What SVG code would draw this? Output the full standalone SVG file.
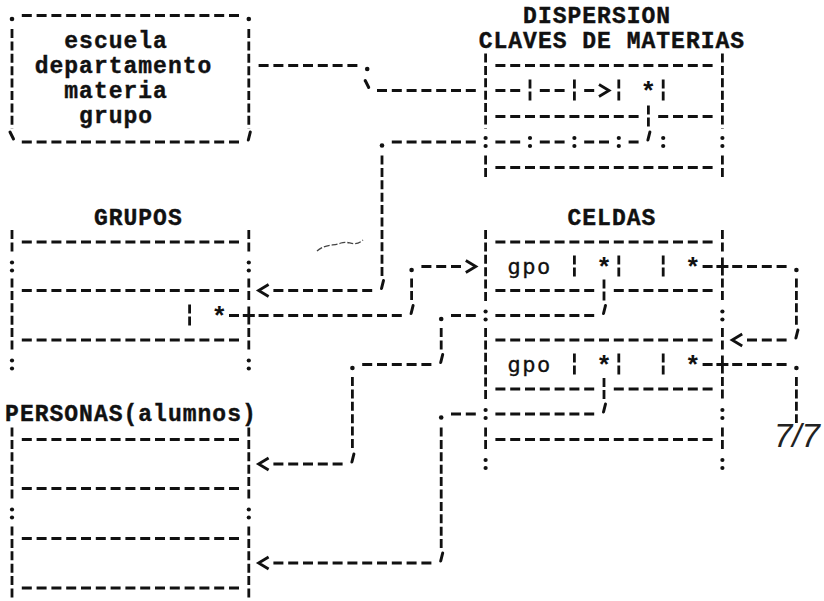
<svg xmlns="http://www.w3.org/2000/svg" xmlns:xlink="http://www.w3.org/1999/xlink" width="824" height="601" viewBox="0 0 824 601">
<style>
.h{stroke:#111;stroke-width:3;stroke-dasharray:10 4.8;fill:none}
.v{stroke:#111;stroke-width:2.8;stroke-dasharray:9 3.4;fill:none}
.t{font-family:"Liberation Mono","DejaVu Sans Mono",monospace;font-size:23px;font-weight:bold;letter-spacing:1px;fill:#111;stroke:#111;stroke-width:0.4}
.s{font-family:"Liberation Mono","DejaVu Sans Mono",monospace;font-size:26px;font-weight:bold;fill:#111;text-anchor:middle}
.p{font-family:"DejaVu Sans Mono","Liberation Mono",monospace;font-size:22px;letter-spacing:1.5px;fill:#111;stroke:#111;stroke-width:0.3}
.n{font-family:"Liberation Sans",Arial,sans-serif;font-size:33px;font-style:italic;fill:#222}
</style>
<defs>
<g id="colon" fill="#111"><circle cx="0" cy="-4" r="2.1"/><circle cx="0" cy="4" r="2.1"/></g>
<circle id="dot" cx="0" cy="3.5" r="2.3" fill="#111"/>
<line id="tick" x1="1.5" y1="-10" x2="-0.5" y2="-2" stroke="#111" stroke-width="3" stroke-linecap="round"/>
<line id="btick" x1="-2" y1="-10" x2="1.5" y2="-3" stroke="#111" stroke-width="3" stroke-linecap="round"/>
<line id="bar" x1="0" y1="-11" x2="0" y2="10" stroke="#111" stroke-width="2.8" stroke-dasharray="9 3"/>
<polyline id="lt" points="5,-6 -5,0 5,6" fill="none" stroke="#111" stroke-width="2.8"/>
<polyline id="gt" points="-5,-6 5,0 -5,6" fill="none" stroke="#111" stroke-width="2.8"/>
<path id="plus" d="M-6,0H6M0,-9V9" fill="none" stroke="#111" stroke-width="2.8"/>
</defs>
<rect width="824" height="601" fill="#fff"/>

<g id="entrada">
<line class="h" x1="21.8" y1="15.5" x2="239" y2="15.5"/>
<use href="#dot" x="12" y="15.5"/><use href="#dot" x="248.8" y="15.5"/>
<line class="v" x1="12" y1="29" x2="12" y2="128.5"/>
<line class="v" x1="248.8" y1="29" x2="248.8" y2="128.5"/>
<line class="h" x1="21.8" y1="142" x2="239" y2="142"/>
<use href="#btick" x="12" y="142"/><use href="#tick" x="248.8" y="142"/>
<text class="t" x="64.3" y="48">escuela</text>
<text class="t" x="34.7" y="72.5">departamento</text>
<text class="t" x="64.3" y="97.5">materia</text>
<text class="t" x="79.1" y="123">grupo</text>
</g>

<g id="dispersion">
<text class="t" x="523.1" y="23">DISPERSION</text>
<text class="t" x="478.7" y="48">CLAVES DE MATERIAS</text>
<line class="v" x1="485.6" y1="53.5" x2="485.6" y2="128.5"/>
<use href="#colon" x="485.6" y="142"/>
<line class="v" x1="485.6" y1="155.5" x2="485.6" y2="179.5"/>
<line class="v" x1="722.4" y1="53.5" x2="722.4" y2="128.5"/>
<use href="#colon" x="722.4" y="142"/>
<line class="v" x1="722.4" y1="155.5" x2="722.4" y2="179.5"/>
<line class="h" x1="495.4" y1="65.5" x2="712.6" y2="65.5"/>
<line class="h" x1="495.4" y1="90.5" x2="520.2" y2="90.5"/>
<use href="#bar" x="530" y="90.5"/>
<line class="h" x1="539.8" y1="90.5" x2="564.6" y2="90.5"/>
<use href="#bar" x="574.4" y="90.5"/>
<line class="h" x1="584.2" y1="90.5" x2="594.2" y2="90.5"/>
<use href="#gt" x="604" y="90.5"/>
<use href="#bar" x="618.8" y="90.5"/>
<text class="s" x="648.4" y="100">*</text>
<use href="#bar" x="663.2" y="90.5"/>
<line class="h" x1="495.4" y1="116.5" x2="638.6" y2="116.5"/>
<use href="#bar" x="648.4" y="116.5"/>
<line class="h" x1="658.2" y1="116.5" x2="712.6" y2="116.5"/>
<line class="h" x1="495.4" y1="142" x2="520.2" y2="142"/>
<use href="#colon" x="530" y="142"/>
<line class="h" x1="539.8" y1="142" x2="564.6" y2="142"/>
<use href="#colon" x="574.4" y="142"/>
<line class="h" x1="584.2" y1="142" x2="609" y2="142"/>
<use href="#colon" x="618.8" y="142"/>
<line class="h" x1="628.6" y1="142" x2="638.6" y2="142"/>
<use href="#tick" x="648.4" y="142"/>
<use href="#colon" x="663.2" y="142"/>
<line class="h" x1="495.4" y1="167.5" x2="712.6" y2="167.5"/>
</g>

<g id="grupos">
<text class="t" x="93.9" y="224.5">GRUPOS</text>
<line class="v" x1="12" y1="230" x2="12" y2="254"/>
<use href="#colon" x="12" y="266.5"/>
<line class="v" x1="12" y1="278.5" x2="12" y2="352"/>
<use href="#colon" x="12" y="364.5"/>
<line class="v" x1="248.8" y1="230" x2="248.8" y2="254"/>
<use href="#colon" x="248.8" y="266.5"/>
<line class="v" x1="248.8" y1="278.5" x2="248.8" y2="302.5"/>
<use href="#plus" x="248.8" y="315.5"/>
<line class="v" x1="248.8" y1="328" x2="248.8" y2="352"/>
<use href="#colon" x="248.8" y="364.5"/>
<line class="h" x1="21.8" y1="242" x2="239" y2="242"/>
<line class="h" x1="21.8" y1="290.5" x2="239" y2="290.5"/>
<use href="#bar" x="189.6" y="315.5"/>
<text class="s" x="219.2" y="325">*</text>
<line class="h" x1="229" y1="315.5" x2="239" y2="315.5"/>
<line class="h" x1="21.8" y1="340" x2="239" y2="340"/>
</g>

<g id="celdas">
<text class="t" x="567.5" y="224.5">CELDAS</text>
<line class="v" x1="485.6" y1="230" x2="485.6" y2="302.5"/>
<use href="#colon" x="485.6" y="315.5"/>
<line class="v" x1="485.6" y1="328" x2="485.6" y2="401"/>
<use href="#colon" x="485.6" y="414"/>
<line class="v" x1="485.6" y1="427.5" x2="485.6" y2="451.5"/>
<use href="#colon" x="485.6" y="464"/>
<line class="v" x1="722.4" y1="230" x2="722.4" y2="254"/>
<use href="#plus" x="722.4" y="266.5"/>
<line class="v" x1="722.4" y1="278.5" x2="722.4" y2="302.5"/>
<use href="#colon" x="722.4" y="315.5"/>
<line class="v" x1="722.4" y1="328" x2="722.4" y2="352"/>
<use href="#plus" x="722.4" y="364.5"/>
<line class="v" x1="722.4" y1="377" x2="722.4" y2="401"/>
<use href="#colon" x="722.4" y="414"/>
<line class="v" x1="722.4" y1="427.5" x2="722.4" y2="451.5"/>
<use href="#colon" x="722.4" y="464"/>
<line class="h" x1="495.4" y1="242" x2="712.6" y2="242"/>
<text class="p" x="507.5" y="273.5">gpo</text>
<use href="#bar" x="574.4" y="266.5"/>
<text class="s" x="604" y="276">*</text>
<use href="#bar" x="618.8" y="266.5"/>
<use href="#bar" x="663.2" y="266.5"/>
<text class="s" x="692.8" y="276">*</text>
<line class="h" x1="702.6" y1="266.5" x2="712.6" y2="266.5"/>
<line class="h" x1="495.4" y1="290.5" x2="594.2" y2="290.5"/>
<use href="#bar" x="604" y="290.5"/>
<line class="h" x1="613.8" y1="290.5" x2="712.6" y2="290.5"/>
<line class="h" x1="495.4" y1="315.5" x2="594.2" y2="315.5"/>
<use href="#tick" x="604" y="315.5"/>
<line class="h" x1="495.4" y1="340" x2="712.6" y2="340"/>
<text class="p" x="507.5" y="371.5">gpo</text>
<use href="#bar" x="574.4" y="364.5"/>
<text class="s" x="604" y="374">*</text>
<use href="#bar" x="618.8" y="364.5"/>
<use href="#bar" x="663.2" y="364.5"/>
<text class="s" x="692.8" y="374">*</text>
<line class="h" x1="702.6" y1="364.5" x2="712.6" y2="364.5"/>
<line class="h" x1="495.4" y1="389" x2="594.2" y2="389"/>
<use href="#bar" x="604" y="389"/>
<line class="h" x1="613.8" y1="389" x2="712.6" y2="389"/>
<line class="h" x1="495.4" y1="414" x2="594.2" y2="414"/>
<use href="#tick" x="604" y="414"/>
<line class="h" x1="495.4" y1="439.5" x2="712.6" y2="439.5"/>
</g>

<g id="personas">
<text class="t" x="5.1" y="421">PERSONAS(alumnos)</text>
<line class="v" x1="12" y1="427.5" x2="12" y2="500.5"/>
<use href="#colon" x="12" y="513.5"/>
<line class="v" x1="12" y1="526.5" x2="12" y2="601"/>
<line class="v" x1="248.8" y1="427.5" x2="248.8" y2="500.5"/>
<use href="#colon" x="248.8" y="513.5"/>
<line class="v" x1="248.8" y1="526.5" x2="248.8" y2="601"/>
<line class="h" x1="21.8" y1="439.5" x2="239" y2="439.5"/>
<line class="h" x1="21.8" y1="488.5" x2="239" y2="488.5"/>
<line class="h" x1="21.8" y1="538.5" x2="239" y2="538.5"/>
<line class="h" x1="21.8" y1="588" x2="239" y2="588"/>
</g>

<g id="connectors">
<line class="h" x1="258.6" y1="65.5" x2="357.4" y2="65.5"/>
<use href="#dot" x="367.2" y="65.5"/>
<use href="#btick" x="367.2" y="90.5"/>
<line class="h" x1="377" y1="90.5" x2="475.8" y2="90.5"/>

<use href="#dot" x="382" y="142"/>
<line class="h" x1="391.8" y1="142" x2="475.8" y2="142"/>
<line class="v" x1="382" y1="155.5" x2="382" y2="278.5"/>
<use href="#tick" x="382" y="290.5"/>
<line class="h" x1="273.4" y1="290.5" x2="372.2" y2="290.5"/>
<use href="#lt" x="263.6" y="290.5"/>

<line class="h" x1="258.6" y1="315.5" x2="401.8" y2="315.5"/>
<use href="#tick" x="411.6" y="315.5"/>
<line class="v" x1="411.6" y1="278.5" x2="411.6" y2="302.5"/>
<use href="#dot" x="411.6" y="266.5"/>
<line class="h" x1="421.4" y1="266.5" x2="461" y2="266.5"/>
<use href="#gt" x="470.8" y="266.5"/>

<use href="#dot" x="441.2" y="315.5"/>
<line class="h" x1="451" y1="315.5" x2="475.8" y2="315.5"/>
<line class="v" x1="441.2" y1="328" x2="441.2" y2="352"/>
<use href="#tick" x="441.2" y="364.5"/>
<line class="h" x1="362.2" y1="364.5" x2="431.4" y2="364.5"/>
<use href="#dot" x="352.4" y="364.5"/>
<line class="v" x1="352.4" y1="377" x2="352.4" y2="451.5"/>
<use href="#tick" x="352.4" y="464"/>
<line class="h" x1="273.4" y1="464" x2="342.6" y2="464"/>
<use href="#lt" x="263.6" y="464"/>

<use href="#dot" x="441.2" y="414"/>
<line class="h" x1="451" y1="414" x2="475.8" y2="414"/>
<line class="v" x1="441.2" y1="427.5" x2="441.2" y2="550.5"/>
<use href="#tick" x="441.2" y="563"/>
<line class="h" x1="273.4" y1="563" x2="431.4" y2="563"/>
<use href="#lt" x="263.6" y="563"/>

<line class="h" x1="732.2" y1="266.5" x2="786.6" y2="266.5"/>
<use href="#dot" x="796.4" y="266.5"/>
<line class="v" x1="796.4" y1="278.5" x2="796.4" y2="327.5"/>
<use href="#tick" x="796.4" y="340"/>
<line class="h" x1="747" y1="340" x2="786.6" y2="340"/>
<use href="#lt" x="737.2" y="340"/>

<line class="h" x1="732.2" y1="364.5" x2="786.6" y2="364.5"/>
<use href="#dot" x="796.4" y="364.5"/>
<line class="v" x1="796.4" y1="377" x2="796.4" y2="423"/>
</g>

<g id="marks">
<path d="M317,251 C325,244 333,246 341,243 C349,240 354,248 363,240" fill="none" stroke="#444" stroke-width="1.3" stroke-dasharray="6 2"/>
<text class="n" x="774" y="447">7/7</text>
</g>
</svg>
